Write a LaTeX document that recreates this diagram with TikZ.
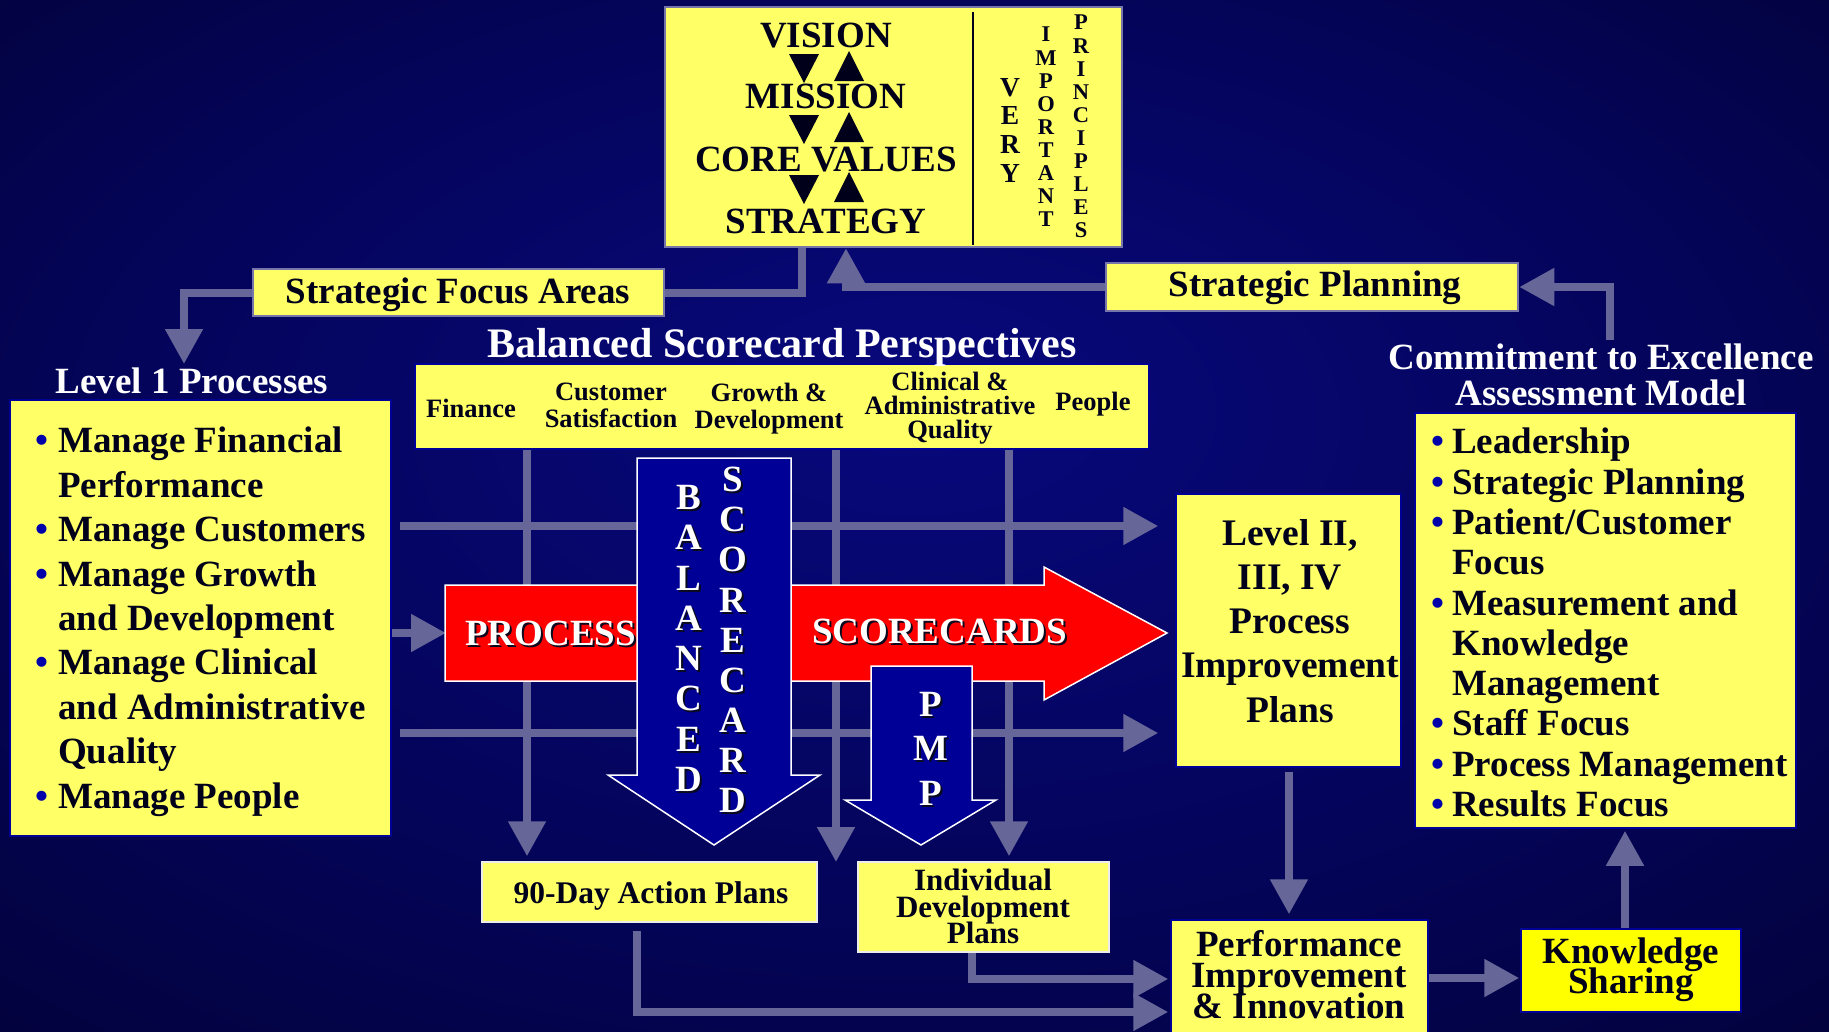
\documentclass[tikz,border=0pt]{standalone}
\usepackage{fontspec}
\setmainfont{Liberation Serif}
\usetikzlibrary{arrows.meta,calc}
\definecolor{bgin}{RGB}{8,8,125}
\definecolor{bgmid}{RGB}{4,4,90}
\definecolor{bgout}{RGB}{1,0,36}
\definecolor{boxy}{RGB}{255,255,102}
\definecolor{ksy}{RGB}{255,255,0}
\definecolor{conn}{RGB}{102,102,153}
\definecolor{ink}{RGB}{0,0,26}
\definecolor{bulb}{RGB}{0,0,170}
\definecolor{navyb}{RGB}{0,0,150}
\definecolor{grayb}{RGB}{118,118,170}
\definecolor{arrblue}{RGB}{0,0,150}
\definecolor{shad}{RGB}{10,10,30}
\pgfdeclareradialshading{bgshade}{\pgfpoint{0bp}{6bp}}{color(0bp)=(bgin); color(22bp)=(bgmid); color(50bp)=(bgout)}
\newcommand\myfs[2]{\fontsize{#1}{#2}\selectfont\bfseries\lineskiplimit=-100pt\relax}
\newcommand\shtxt[1]{\makebox[0pt][l]{\hspace{2pt}\raisebox{-2pt}{\textcolor{shad}{#1}}}#1}
\newcommand\bulA{\makebox[23pt][l]{\textcolor{bulb}{\char"2022}}}
\newcommand\indA{\hspace*{23pt}}
\newcommand\bulB{\makebox[21pt][l]{\textcolor{bulb}{\char"2022}}}
\newcommand\indB{\hspace*{21pt}}
\begin{document}
\begin{tikzpicture}[x=1pt,y=-1pt,
  ybox/.style={draw=navyb, line width=1.5pt, fill=boxy, inner sep=0pt},
  gbox/.style={draw=grayb, line width=2.5pt, fill=boxy, inner sep=0pt},
  wbox/.style={draw=white!85!gray, line width=1.5pt, fill=boxy, inner sep=0pt},
  txt/.style={inner sep=0pt, text=ink},
  wtxt/.style={inner sep=0pt, text=white},
  conline/.style={draw=conn, line width=8pt},
  arr/.style={conline, -{Triangle[width=36pt,length=35pt]}},
  bigarrow/.style={draw=white, line width=1.5pt},
]
\useasboundingbox (0,0) rectangle (1829,1031);
\shade[shading=bgshade] (0,0) rectangle (1829,1031);

% ---------- boxes ----------
\node[gbox, minimum width=457pt, minimum height=240pt] (top) at (893.5,127) {};
\node[gbox, minimum width=411pt, minimum height=47pt] (sfa) at (458.5,292.5) {};
\node[gbox, minimum width=412pt, minimum height=48pt] (sp) at (1312,287) {};
\node[ybox, minimum width=381pt, minimum height=436pt] (l1) at (200.5,618) {};
\node[ybox, minimum width=734pt, minimum height=85pt] (bsc) at (782,406.5) {};
\node[ybox, minimum width=225pt, minimum height=273pt] (l2) at (1288.5,630.5) {};
\node[ybox, minimum width=381pt, minimum height=415pt] (cm) at (1605.5,620.5) {};
\node[wbox, minimum width=335pt, minimum height=60pt] (nd) at (649.5,892) {};
\node[wbox, minimum width=251pt, minimum height=90pt] (idp) at (983.5,907) {};
\node[ybox, minimum width=257pt, minimum height=120pt] (pii) at (1299.5,980) {};
\node[ybox, fill=ksy, minimum width=220pt, minimum height=83pt] (ks) at (1631,970.5) {};

% ---------- top box content ----------
\node[txt, anchor=base, font=\myfs{37}{44}] (vision) at (826,47) {VISION};
\node[txt, anchor=base, font=\myfs{37}{44}] (mission) at (826,108) {MISSION};
\node[txt, anchor=base, font=\myfs{37}{44}] (core) at (826,171) {CORE VALUES};
\node[txt, anchor=base, font=\myfs{37}{44}] (strat) at (826,233) {STRATEGY};
\foreach \d in {0,61,121}{
  \fill[ink] (789,54+\d) -- (819,54+\d) -- (804,83+\d) -- cycle;
  \fill[ink] (834,81+\d) -- (864,81+\d) -- (849,51+\d) -- cycle;
}
\draw[ink, line width=2.5pt] (973,12) -- (973,245);
\node[txt, anchor=north, align=center, font=\myfs{27.5}{28.7}] (very) at (1010,78) {V\\E\\R\\Y};
\node[txt, anchor=north, align=center, font=\myfs{22.5}{23.1}] (imp) at (1046,27) {I\\M\\P\\O\\R\\T\\A\\N\\T};
\node[txt, anchor=north, align=center, font=\myfs{22.5}{23.1}] (prin) at (1081,15) {P\\R\\I\\N\\C\\I\\P\\L\\E\\S};

% ---------- other texts ----------
\node[txt, anchor=base, font=\myfs{37}{44}] (sfat) at (458,303) {Strategic Focus Areas};
\node[txt, anchor=base, font=\myfs{37}{44}] (spt) at (1315,296) {Strategic Planning};
\node[wtxt, anchor=base, font=\myfs{37}{44}] (l1t) at (192,393) {Level 1 Processes};
\node[wtxt, anchor=base, font=\myfs{42}{48}] (bspt) at (782,357) {Balanced Scorecard Perspectives};
\node[wtxt, anchor=north, align=center, font=\myfs{37}{36}] (cmt) at (1601,344) {Commitment to Excellence\\Assessment Model};

\node[txt, anchor=north west, align=left, font=\myfs{37}{44.4}] (l1list) at (35,427)
 {\bulA Manage Financial\\\indA Performance\\\bulA Manage Customers\\\bulA Manage Growth\\\indA and Development\\\bulA Manage Clinical\\\indA and Administrative\\\indA Quality\\\bulA Manage People};

\node[txt, anchor=base, font=\myfs{26.5}{27}] (pfin) at (471,417) {Finance};
\node[txt, anchor=north, align=center, font=\myfs{26.5}{27}] (pcus) at (611,382.5) {Customer\\Satisfaction};
\node[txt, anchor=north, align=center, font=\myfs{26.5}{27}] (pgro) at (769,382.5) {Growth \&\\Development};
\node[txt, anchor=north, align=center, font=\myfs{26.5}{24}] (pcli) at (950,372) {Clinical \&\\Administrative\\Quality};
\node[txt, anchor=base, font=\myfs{26.5}{27}] (ppeo) at (1093,410) {People};

\node[txt, anchor=north, align=center, font=\myfs{37.5}{44.25}] (l2t) at (1290,519) {Level II,\\III, IV\\Process\\Improvement\\Plans};

\node[txt, anchor=north west, align=left, font=\myfs{37}{40.3}] (cml) at (1431,428)
 {\bulB Leadership\\\bulB Strategic Planning\\\bulB Patient/Customer\\\indB Focus\\\bulB Measurement and\\\indB Knowledge\\\indB Management\\\bulB Staff Focus\\\bulB Process Management\\\bulB Results Focus};

\node[txt, anchor=base, font=\myfs{31.5}{31}] (ndt) at (651,903) {90-Day Action Plans};
\node[txt, anchor=north, align=center, font=\myfs{31}{26.5}] (idpt) at (983,869) {Individual\\Development\\Plans};
\node[txt, anchor=north, align=center, font=\myfs{37}{31}] (piit) at (1299,930) {Performance\\Improvement\\\& Innovation};
\node[txt, anchor=north, align=center, font=\myfs{37}{30}] (kst) at (1631,938) {Knowledge\\Sharing};

% ---------- coordinates ----------
\coordinate (x802) at (802,0);
\coordinate (x846) at (846,0);
\coordinate (tipL1) at (184,364);
\coordinate (cmtop) at (1610,340);
\coordinate (v1) at (527,0);
\coordinate (v2) at (836,0);
\coordinate (v3) at (1009,0);
\coordinate (v2end) at (836,862);
\coordinate (h1) at (0,526);
\coordinate (h2) at (0,733);
\coordinate (redw) at (446,633);
\coordinate (x1289) at (1289,0);
\coordinate (h3) at (0,978);
\coordinate (x1625) at (1625,0);
\coordinate (x637) at (637,0);
\coordinate (h4) at (0,1012);
\coordinate (x972) at (972,0);
\coordinate (h5) at (0,979);

% ---------- connectors ----------
\draw[conline] (top.south -| x802) |- (sfa.east);
\draw[arr] (sfa.west) -| (tipL1);
\draw[arr] (sp.west) -| (top.south -| x846);
\draw[arr] (cmtop) |- (sp.east);
\draw[arr, shorten >=5pt] (bsc.south -| v1) -- (nd.north -| v1);
\draw[arr] (bsc.south -| v2) -- (v2end);
\draw[arr, shorten >=5pt] (bsc.south -| v3) -- (idp.north -| v3);
\draw[arr, shorten <=8pt, shorten >=17pt] (l1.east |- h1) -- (l2.west |- h1);
\draw[arr, shorten <=8pt, shorten >=17pt] (l1.east |- h2) -- (l2.west |- h2);
\draw[arr] (l1.east |- redw) -- (redw);
\draw[arr, shorten <=4pt, shorten >=5pt] (l2.south -| x1289) -- (pii.north -| x1289);
\draw[arr, shorten >=1pt] (pii.east |- h3) -- (ks.west |- h3);
\draw[arr, shorten >=2pt] (ks.north -| x1625) -- (cm.south -| x1625);
\draw[arr, shorten <=8pt, shorten >=2pt] (nd.south -| x637) |- (pii.west |- h4);
\draw[arr, shorten >=2pt] (idp.south -| x972) |- (pii.west |- h5);

% ---------- big block arrows ----------
\filldraw[bigarrow, fill=red] (445,585) -- (1044,585) -- (1044,567) -- (1167,633) -- (1044,700) -- (1044,681) -- (445,681) -- cycle;
\node[wtxt, anchor=base west, font=\myfs{37}{44}] (proc) at (465,645) {\shtxt{PROCESS}};
\node[wtxt, anchor=base west, font=\myfs{37}{44}] (scs) at (812,643) {\shtxt{SCORECARDS}};

\filldraw[bigarrow, fill=arrblue] (637,458) -- (791,458) -- (791,775) -- (820,775) -- (714,845) -- (608,775) -- (637,775) -- cycle;
\filldraw[bigarrow, fill=arrblue] (871,666) -- (972,666) -- (972,800) -- (996,800) -- (921,845) -- (845,800) -- (871,800) -- cycle;

\node[wtxt, anchor=north, align=center, font=\myfs{37}{40.3}] (bal) at (689,485)
 {\shtxt{B}\\\shtxt{A}\\\shtxt{L}\\\shtxt{A}\\\shtxt{N}\\\shtxt{C}\\\shtxt{E}\\\shtxt{D}};
\node[wtxt, anchor=north, align=center, font=\myfs{37}{40.1}] (sco) at (733,467)
 {\shtxt{S}\\\shtxt{C}\\\shtxt{O}\\\shtxt{R}\\\shtxt{E}\\\shtxt{C}\\\shtxt{A}\\\shtxt{R}\\\shtxt{D}};
\node[wtxt, anchor=north, align=center, font=\myfs{37}{44.5}] (pmp) at (931,692)
 {\shtxt{P}\\\shtxt{M}\\\shtxt{P}};
\end{tikzpicture}
\end{document}
